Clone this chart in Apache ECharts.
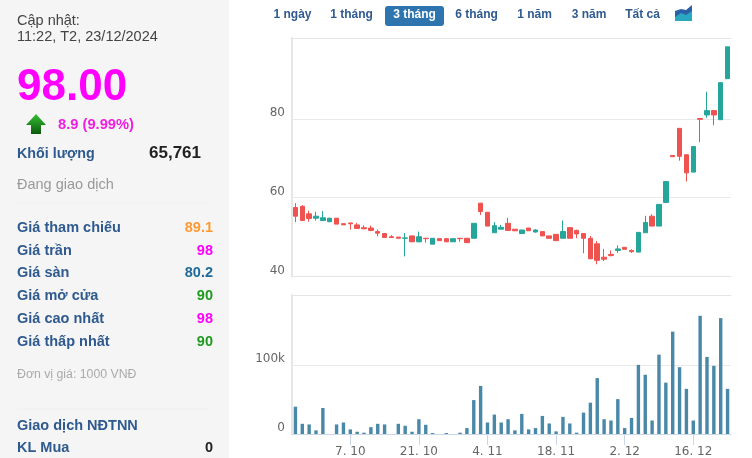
<!DOCTYPE html>
<html><head><meta charset="utf-8">
<style>html,body{margin:0;padding:0;background:#fff}#c{width:752px;height:458px}</style>
<script src="https://cdn.jsdelivr.net/npm/echarts@6/dist/echarts.min.js"></script>
</head><body><div id="c"></div>
<script>
const dates = ["25. 9","26. 9","27. 9","30. 9","1. 10","2. 10","3. 10","4. 10","7. 10","8. 10","9. 10","10. 10","11. 10","14. 10","15. 10","16. 10","17. 10","18. 10","21. 10","22. 10","23. 10","24. 10","25. 10","28. 10","29. 10","30. 10","31. 10","1. 11","4. 11","5. 11","6. 11","7. 11","8. 11","11. 11","12. 11","13. 11","14. 11","15. 11","18. 11","19. 11","20. 11","21. 11","22. 11","25. 11","26. 11","27. 11","28. 11","29. 11","2. 12","3. 12","4. 12","5. 12","6. 12","9. 12","10. 12","11. 12","12. 12","13. 12","16. 12","17. 12","18. 12","19. 12","20. 12","23. 12"];
const tickLabels = ["7. 10","21. 10","4. 11","18. 11","2. 12","16. 12"];
const opens = [57.5,57.8,55.9,54.8,54.2,53.9,54.8,53.4,53.6,53.1,52.4,52.3,51.4,50.9,50.1,50.0,49.7,50.3,48.8,49.7,48.2,49.6,49.6,48.8,49.7,49.7,49.7,58.6,56.3,51.1,52.0,53.5,52.0,50.9,52.3,51.3,51.4,50.3,50.7,49.7,52.4,51.7,50.9,49.7,48.3,44.9,45.6,46.6,47.4,46.6,46.2,51.1,55.3,52.8,58.8,70.7,77.6,70.9,66.5,80.1,81.0,82.1,79.8,90.2];
const closes = [55.3,54.2,54.7,55.3,54.9,54.8,53.3,53.1,53.4,52.2,52.1,51.7,51.0,49.9,49.9,49.7,49.8,48.8,50.1,49.6,49.7,49.1,48.8,49.6,49.6,48.6,53.5,56.5,52.8,52.9,52.5,51.7,51.6,51.8,51.6,51.8,50.3,49.7,49.1,51.4,49.7,50.8,49.7,44.5,44.1,44.4,45.3,47.0,46.9,46.3,51.2,53.7,52.8,58.3,64.1,70.4,70.5,66.3,73.0,79.9,82.1,81.0,89.2,98.3];
const lows = [53.8,54.2,53.9,54.2,54.2,53.8,53.3,53.1,51.9,52.1,52.0,51.5,50.2,49.9,49.8,49.7,45.1,48.8,48.7,48.6,48.2,49.1,48.8,48.8,48.8,48.6,49.7,55.6,52.8,51.1,52.0,51.6,51.6,50.9,51.6,51.1,50.3,49.7,49.1,49.7,49.7,49.7,45.9,44.4,43.1,43.9,45.1,46.0,46.9,46.0,46.2,51.1,52.8,52.8,58.8,70.4,69.4,64.1,66.5,74.1,80.3,78.4,79.8,90.2];
const highs = [58.6,58.1,56.7,56.4,56.6,54.9,54.8,53.4,53.6,53.6,53.0,52.9,51.9,50.9,50.5,50.0,51.0,50.3,51.4,49.8,49.7,49.6,49.6,49.6,49.7,49.7,53.5,58.7,56.3,53.8,53.1,54.9,52.0,51.8,52.3,52.0,51.4,50.3,50.7,54.2,52.4,51.9,51.0,50.3,49.0,47.0,46.6,47.9,47.4,46.9,51.2,55.4,55.8,58.3,64.1,70.7,77.6,70.9,73.0,80.1,86.9,82.1,89.2,98.3];
const volumes = [39700,14800,13900,5300,37800,0,13900,16700,6700,3300,1900,10000,14800,13900,0,14800,12000,3300,21500,13400,1400,0,1400,0,1900,8600,49300,69900,16700,28200,16700,21500,5300,29200,6700,8600,26300,15300,3800,24900,15300,1900,31100,45500,81300,21500,19600,50700,8600,23400,100500,86100,19600,115300,74600,148800,97100,65600,19600,171800,112000,99000,168400,65600];
const priceTicks = [40,60,80];
const volumeTicks = [0,100000];
const tabs = ["1 ngày","1 tháng","3 tháng","6 tháng","1 năm","3 năm","Tất cả"];
const rowLabels = ["Giá tham chiếu","Giá trần","Giá sàn","Giá mở cửa","Giá cao nhất","Giá thấp nhất"];
const rowValues = ["89.1","98","80.2","90","98","90"];

const FONT='"Liberation Sans",Arial,sans-serif', AXF='"DejaVu Sans",Verdana,sans-serif';
const BLUE='#2f5a8f', MAG='#ff00ff';
const T=(text,x,y,size,fill,opt={})=>({type:'text',silent:true,x,y,style:Object.assign({text,fontFamily:FONT,fontSize:size,fill,textAlign:'left',textVerticalAlign:'middle'},opt)});
const B={fontWeight:'bold'};
const g=[];
g.push({type:'rect',shape:{x:0,y:0,width:229,height:458},style:{fill:'#f5f5f5'},z:-1});
g.push({type:'line',shape:{x1:17,y1:203,x2:208,y2:203},style:{stroke:'#efefef',lineWidth:1}});
g.push({type:'line',shape:{x1:17,y1:409,x2:208,y2:409},style:{stroke:'#efefef',lineWidth:1}});
g.push(T('Cập nhật:',17,21,14.5,'#444'),T('11:22, T2, 23/12/2024',17,37,14.5,'#444'));
g.push(T('98.00',17,88,44,MAG,B));
g.push({type:'polygon',shape:{points:[[36,114],[46,125],[41,125],[41,134],[31,134],[31,125],[26,125]]},
 style:{fill:{type:'linear',x:0,y:0,x2:0,y2:1,colorStops:[{offset:0,color:'#35c035'},{offset:1,color:'#0a5a0a'}]}}});
g.push(T('8.9 (9.99%)',58,125,14.7,'#f01ee0',B));
g.push(T('Khối lượng',17,154,14.3,BLUE,B),T('65,761',201,153,17,'#222',{fontWeight:'bold',textAlign:'right'}));
g.push(T('Đang giao dịch',17,185,14.5,'#999'));
const rowY=[228,251,273,296,319,342], rowC=['#ff9933',MAG,'#1f6a9a','#1f9a1f',MAG,'#1f9a1f'];
rowLabels.forEach((s,i)=>{g.push(T(s,17,rowY[i],14.5,BLUE,B),T(rowValues[i],213,rowY[i],14.5,rowC[i],{fontWeight:'bold',textAlign:'right'}));});
g.push(T('Đơn vị giá: 1000 VNĐ',17,375,12.3,'#aaa'));
g.push(T('Giao dịch NĐTNN',17,426,14.5,BLUE,B),T('KL Mua',17,447.5,14.5,BLUE,B),T('0',213,447.5,14.5,'#222',{fontWeight:'bold',textAlign:'right'}));
g.push({type:'rect',shape:{x:385,y:6,width:59,height:20,r:3},style:{fill:'#2e75b0'}});
const tabX=[292.5,351.5,414.5,476.5,534.5,589,642.5];
tabs.forEach((s,i)=>g.push(T(s,tabX[i],15,12,i===2?'#fff':BLUE,{fontWeight:'bold',textAlign:'center'})));
g.push({type:'polygon',shape:{points:[[675,11],[681,9],[686,10],[692,5],[692,21],[675,21]]},style:{fill:'#2b5fa8'}});
g.push({type:'polygon',shape:{points:[[675,17],[681,13],[686,15],[692,11],[692,21],[675,21]]},style:{fill:'#2aa7c0'}});

const axisGrey='#e6e6e6', gridGrey='#e9e9e9', tickBlue='#ccd6eb';
const isTick=(i,v)=>tickLabels.includes(v);
const option={
 animation:false,
 backgroundColor:'#fff',
 graphic:{elements:g},
 grid:[{left:292,width:439,top:38,height:238.5},{left:292,width:439,top:295,height:141}],
 xAxis:[
  {type:'category',gridIndex:0,data:dates,axisLine:{lineStyle:{color:axisGrey,width:1}},axisTick:{show:false},axisLabel:{show:false},splitLine:{show:false}},
  {type:'category',gridIndex:0,position:'top',data:dates,axisLine:{lineStyle:{color:axisGrey,width:1}},axisTick:{show:false},axisLabel:{show:false},splitLine:{show:false}},
  {type:'category',gridIndex:1,data:dates,axisLine:{lineStyle:{color:'#ccd6eb',width:1}},
   axisTick:{show:true,alignWithLabel:true,length:11,lineStyle:{color:tickBlue,width:1},interval:isTick},
   axisLabel:{interval:isTick,hideOverlap:false,margin:12,color:'#666',fontFamily:AXF,fontSize:12}},
  {type:'category',gridIndex:1,position:'top',data:dates,axisLine:{lineStyle:{color:axisGrey,width:1}},axisTick:{show:false},axisLabel:{show:false},splitLine:{show:false}}
 ],
 yAxis:[
  {type:'value',gridIndex:0,min:40,max:100.53,
   axisLine:{show:true,lineStyle:{color:axisGrey,width:2}},axisTick:{show:false,customValues:priceTicks},
   axisLabel:{customValues:priceTicks,margin:7,verticalAlign:'bottom',color:'#666',fontFamily:AXF,fontSize:12},
   splitLine:{show:true,lineStyle:{color:gridGrey,width:1}}},
  {type:'value',gridIndex:1,min:0,max:202000,
   axisLine:{show:true,lineStyle:{color:axisGrey,width:2}},axisTick:{show:false,customValues:volumeTicks},
   axisLabel:{customValues:volumeTicks,margin:7,verticalAlign:'bottom',color:'#666',fontFamily:AXF,fontSize:12,formatter:v=>v===0?'0':(v/1000)+'k'},
   splitLine:{show:true,lineStyle:{color:gridGrey,width:1}}}
 ],
 series:[
  {type:'candlestick',xAxisIndex:0,yAxisIndex:0,barWidth:5,
   data:dates.map((d,i)=>[opens[i],closes[i],lows[i],highs[i]]),
   itemStyle:{color:'#26a69a',color0:'#ef5350',borderColor:'#26a69a',borderColor0:'#ef5350',borderWidth:1}},
  {type:'bar',xAxisIndex:2,yAxisIndex:1,barWidth:3.4,data:volumes,itemStyle:{color:'#4a88a8'}}
 ]
};
echarts.init(document.getElementById('c'),null,{renderer:'canvas'}).setOption(option);
</script></body></html>
